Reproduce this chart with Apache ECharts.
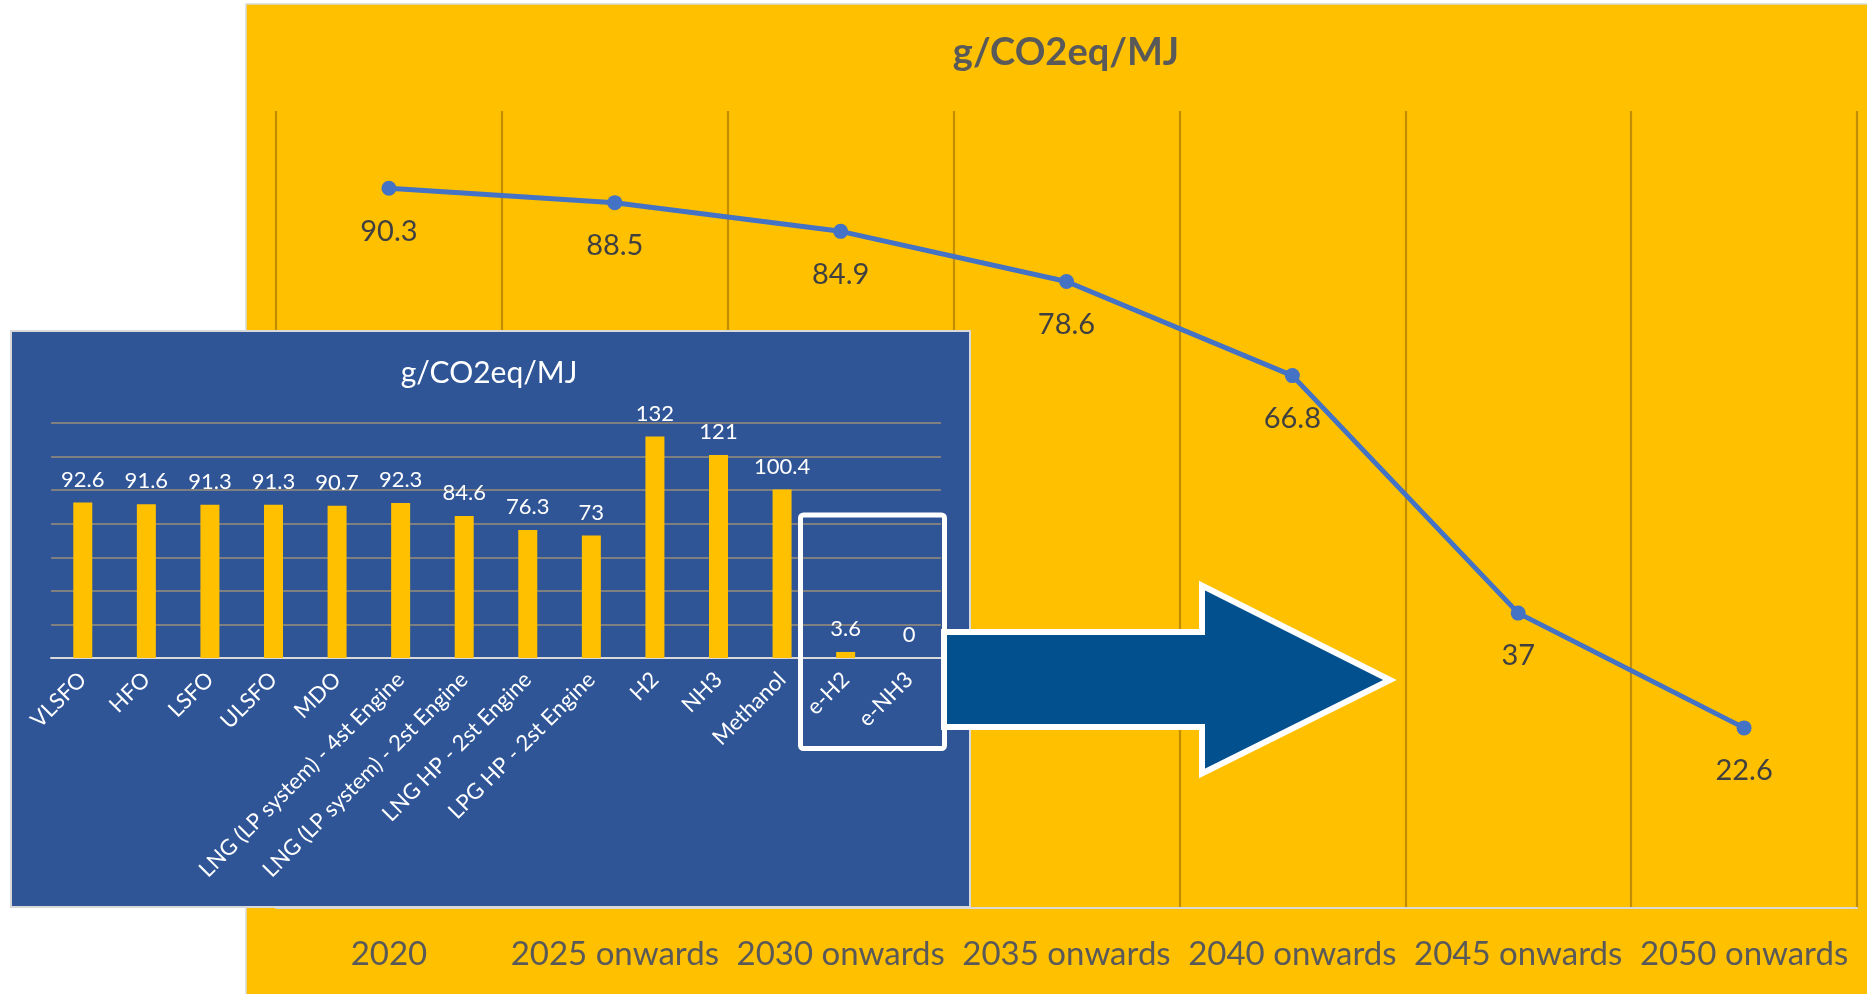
<!DOCTYPE html>
<html>
<head>
<meta charset="utf-8">
<title>g/CO2eq/MJ</title>
<script src="https://cdn.jsdelivr.net/npm/echarts@6/dist/echarts.min.js"></script>
<style>
  html, body { margin: 0; padding: 0; background: #ffffff; }
  #chart { width: 1867px; height: 994px; }
</style>
</head>
<body>
<div id="chart"></div>
<script>
// Trajectory of the GHG intensity limit (line chart)
const periods = ['2020', '2025 onwards', '2030 onwards', '2035 onwards', '2040 onwards', '2045 onwards', '2050 onwards'];
const limitValues = [90.3, 88.5, 84.9, 78.6, 66.8, 37, 22.6];

// Well-to-wake intensity per fuel (inset bar chart)
const fuels = ['VLSFO', 'HFO', 'LSFO', 'ULSFO', 'MDO', 'LNG (LP system) - 4st Engine', 'LNG (LP system) - 2st Engine',
  'LNG HP - 2st Engine', 'LPG HP - 2st Engine', 'H2', 'NH3', 'Methanol', 'e-H2', 'e-NH3'];
const fuelValues = [92.6, 91.6, 91.3, 91.3, 90.7, 92.3, 84.6, 76.3, 73, 132, 121, 100.4, 3.6, 0];

const unitTitle = 'g/CO2eq/MJ';

const chart = echarts.init(document.getElementById('chart'), null, { renderer: 'canvas' });
const FONT = 'Lato, "Open Sans", sans-serif';

chart.setOption({
  backgroundColor: '#ffffff',
  animation: false,
  grid: [
    { left: 276, right: 10, top: 111, bottom: 86, z: 1 },
    { left: 51, right: 926, top: 423, bottom: 336, z: 4 }
  ],
  xAxis: [
    {
      type: 'category', gridIndex: 0, data: periods, boundaryGap: true, z: 1,
      axisLine: { show: true, lineStyle: { color: '#D9D9D9', width: 2 } },
      axisTick: { show: false },
      axisLabel: { interval: 0, margin: 30, color: '#595959', fontSize: 33, fontFamily: FONT },
      splitLine: { show: true, interval: 0, lineStyle: { color: '#C08E00', width: 2.2 } }
    },
    {
      type: 'category', gridIndex: 1, data: fuels, boundaryGap: true, z: 4,
      axisLine: { show: true, lineStyle: { color: '#D9D9D9', width: 2 } },
      axisTick: { show: false },
      axisLabel: { interval: 0, rotate: 45, margin: 18, color: '#ffffff', fontSize: 22, fontFamily: FONT },
      splitLine: { show: false }
    }
  ],
  yAxis: [
    {
      type: 'value', gridIndex: 0, min: 0, max: 100, show: false, z: 1,
      splitLine: { show: false }
    },
    {
      type: 'value', gridIndex: 1, min: 0, max: 140, interval: 20, z: 4,
      axisLine: { show: false }, axisTick: { show: false }, axisLabel: { show: false },
      splitLine: { show: true, lineStyle: { color: '#7F7F7F', width: 2 } }
    }
  ],
  series: [
    {
      type: 'line', xAxisIndex: 0, yAxisIndex: 0, data: limitValues, z: 2,
      lineStyle: { color: '#4472C4', width: 5 },
      itemStyle: { color: '#4472C4' },
      symbol: 'circle', symbolSize: 15,
      label: { show: true, position: 'bottom', distance: 21, color: '#404040', fontSize: 29, fontFamily: FONT }
    },
    {
      type: 'bar', xAxisIndex: 1, yAxisIndex: 1, data: fuelValues, z: 5,
      barWidth: 19,
      itemStyle: { color: '#FFC000' },
      label: { show: true, position: 'top', distance: 12, color: '#ffffff', fontSize: 22, fontFamily: FONT }
    }
  ],
  graphic: [
    {
      type: 'rect', z: 0, silent: true,
      shape: { x: 246, y: 4, width: 1625, height: 994 },
      style: { fill: '#FFC000', stroke: '#D9D9D9', lineWidth: 1.5 }
    },
    {
      type: 'text', z: 1, silent: true, x: 1066, y: 53,
      style: { text: unitTitle, fill: '#595959', font: 'bold 38px ' + FONT, textAlign: 'center', textVerticalAlign: 'middle' }
    },
    {
      type: 'rect', z: 3, silent: true,
      shape: { x: 11, y: 331, width: 959, height: 576 },
      style: { fill: '#2F5597', stroke: '#D9D9D9', lineWidth: 2 }
    },
    {
      type: 'text', z: 4, silent: true, x: 489, y: 373,
      style: { text: unitTitle, fill: '#ffffff', font: '30px ' + FONT, textAlign: 'center', textVerticalAlign: 'middle' }
    },
    {
      type: 'polygon', z: 20, silent: true,
      shape: { points: [[944, 632], [1202, 632], [1202, 585.5], [1390, 680], [1202, 773.5], [1202, 727], [944, 727]] },
      style: { fill: '#03508E', stroke: '#ffffff', lineWidth: 6, lineJoin: 'miter' }
    },
    {
      type: 'rect', z: 21, silent: true,
      shape: { x: 800.5, y: 515, width: 144, height: 233.5, r: 3 },
      style: { fill: 'none', stroke: '#ffffff', lineWidth: 5 }
    }
  ]
});
</script>
</body>
</html>
